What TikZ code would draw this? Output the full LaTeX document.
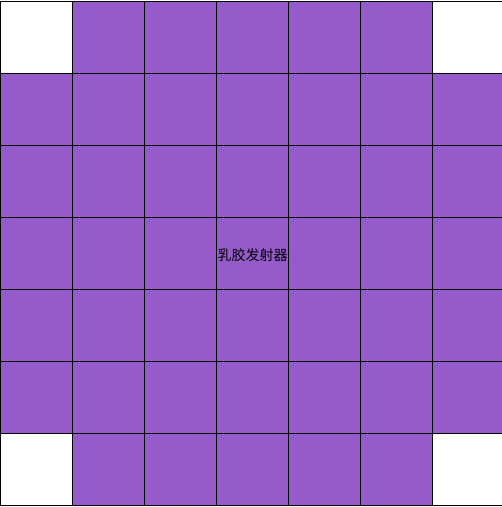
\documentclass[tikz,border=0pt]{standalone}
\usepackage{fontspec}
\newfontfamily\cjk{Noto Sans CJK SC}
\usepackage{tikz}
\usetikzlibrary{positioning}
\definecolor{gunpurple}{RGB}{149,91,203}

\begin{document}
\begin{tikzpicture}[x=1pt,y=-1pt,
    cell/.style={draw=black, line width=0.8pt, minimum size=72pt, inner sep=0pt, outer sep=0pt}]
\useasboundingbox (0,0) rectangle (502,507);

\foreach \i in {0,...,6} {
    \foreach \j in {0,...,6} {
        \pgfmathtruncatemacro{\corner}{((\i==0)||(\i==6))&&((\j==0)||(\j==6))}
        \ifnum\corner=1 \def\col{white}\else \def\col{gunpurple}\fi
        \node[cell, fill=\col] (c\i\j) at ({36.5+72*\i},{37+72*\j}) {};
    }
}

\node[font=\cjk\fontsize{14}{14}\selectfont, text=black, yshift=-2pt] (label) at (c33) {乳胶发射器};
\end{tikzpicture}
\end{document}
